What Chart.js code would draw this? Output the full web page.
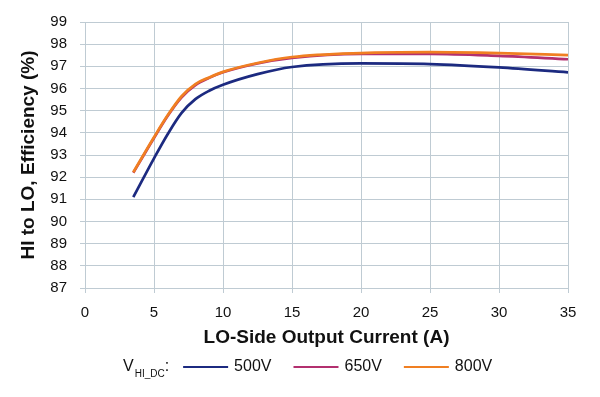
<!DOCTYPE html>
<html>
<head>
<meta charset="utf-8">
<script src="https://cdn.jsdelivr.net/npm/chart.js@4/dist/chart.umd.min.js"></script>
<style>
  html, body { margin: 0; padding: 0; background: #ffffff; }
  #wrap { width: 600px; height: 397px; }
</style>
</head>
<body>
<div id="wrap"><canvas id="effChart" width="600" height="397"></canvas></div>
<script>
// LO-side output current (A)
const currents = [3.5, 5, 6, 7, 8, 9, 10, 12.5, 15, 20, 25, 30, 35];

// efficiency (%) per input voltage
const eff500 = [91.1, 92.85, 93.95, 94.9, 95.52, 95.9, 96.17, 96.65, 96.97, 97.13, 97.1, 96.95, 96.73];
const eff650 = [92.2, 93.77, 94.77, 95.6, 96.15, 96.48, 96.73, 97.13, 97.38, 97.56, 97.56, 97.47, 97.32];
const eff800 = [92.22, 93.8, 94.8, 95.65, 96.2, 96.5, 96.75, 97.15, 97.42, 97.6, 97.64, 97.6, 97.51];

const seriesLabels = ['500V', '650V', '800V'];
const xTicks = [0, 5, 10, 15, 20, 25, 30, 35];
const yTicks = [87, 88, 89, 90, 91, 92, 93, 94, 95, 96, 97, 98, 99];

const FONT = "'Liberation Sans', Arial, Helvetica, sans-serif";
const GRID = '#bfcbd3';

function toPoints(values) {
  return values.map((v, i) => ({ x: currents[i], y: v }));
}

// Legend row with the subscripted V_HI_DC prefix
const vhiLegend = {
  id: 'vhiLegend',
  afterDraw(chart) {
    const ctx = chart.ctx;
    const y = 367;
    let x = 123;
    ctx.save();
    ctx.fillStyle = '#111111';
    ctx.textBaseline = 'middle';
    ctx.textAlign = 'left';
    ctx.font = '16px ' + FONT;
    ctx.fillText('V', x, y);
    x += ctx.measureText('V').width;
    ctx.font = '10px ' + FONT;
    ctx.fillText('HI_DC', x + 1, y + 7);
    x += ctx.measureText('HI_DC').width + 1;
    ctx.font = '16px ' + FONT;
    ctx.fillText(':', x, y);
    x += ctx.measureText(':').width + 14;

    chart.data.datasets.forEach((ds) => {
      ctx.strokeStyle = ds.borderColor;
      ctx.lineWidth = 2;
      ctx.beginPath();
      ctx.moveTo(x, y);
      ctx.lineTo(x + 45, y);
      ctx.stroke();
      x += 51;
      ctx.fillText(ds.label, x, y);
      x += ctx.measureText(ds.label).width + 22;
    });
    ctx.restore();
  }
};

new Chart(document.getElementById('effChart'), {
  type: 'line',
  data: {
    datasets: [
      { label: seriesLabels[0], data: toPoints(eff500), borderColor: '#1c2a80', order: 2 },
      { label: seriesLabels[1], data: toPoints(eff650), borderColor: '#b3306f', order: 1 },
      { label: seriesLabels[2], data: toPoints(eff800), borderColor: '#f07f22', order: 0 }
    ]
  },
  options: {
    responsive: false,
    animation: false,
    events: [],
    layout: { padding: { left: 0, right: 32, top: 16, bottom: 0 } },
    elements: {
      line: { borderWidth: 2.7, cubicInterpolationMode: 'monotone', fill: false },
      point: { radius: 0 }
    },
    plugins: {
      legend: { display: false },
      tooltip: { enabled: false }
    },
    scales: {
      x: {
        type: 'linear',
        min: 0,
        max: 35,
        afterBuildTicks: (scale) => { scale.ticks = xTicks.map(v => ({ value: v })); },
        afterFit: (scale) => { scale.height = 109; },
        grid: { color: GRID, lineWidth: 1, tickLength: 5 },
        border: { color: GRID },
        ticks: { color: '#111111', padding: 11, maxRotation: 0, font: { family: FONT, size: 15 } },
        title: {
          display: true,
          text: 'LO-Side Output Current (A)',
          color: '#111111',
          padding: { top: 0, bottom: 48 },
          font: { family: FONT, size: 19, weight: 'bold' }
        }
      },
      y: {
        min: 87,
        max: 99,
        afterBuildTicks: (scale) => { scale.ticks = yTicks.map(v => ({ value: v })); },
        afterFit: (scale) => { scale.width = 85; },
        grid: { color: GRID, lineWidth: 1, tickLength: 5 },
        border: { color: GRID },
        ticks: { color: '#111111', padding: 13, font: { family: FONT, size: 15 } },
        title: {
          display: true,
          text: 'HI to LO, Efficiency (%)',
          color: '#111111',
          padding: { top: 17, bottom: 0 },
          font: { family: FONT, size: 19, weight: 'bold' }
        }
      }
    }
  },
  plugins: [vhiLegend]
});
</script>
</body>
</html>
